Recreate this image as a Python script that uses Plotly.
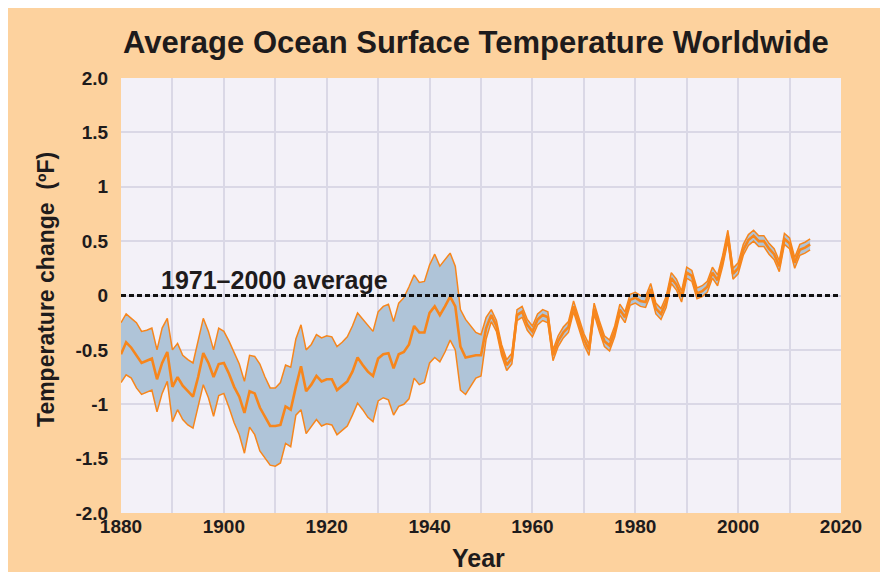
import plotly.graph_objects as go

years = list(range(1880, 2015))

center = [
    -0.54, -0.43, -0.48, -0.55, -0.62, -0.60, -0.58, -0.77, -0.62, -0.52,
    -0.84, -0.75, -0.83, -0.88, -0.93, -0.75, -0.53, -0.62, -0.75, -0.63,
    -0.62, -0.72, -0.84, -0.93, -1.08, -0.88, -0.90, -1.03, -1.12, -1.20,
    -1.20, -1.19, -1.02, -1.05, -0.84, -0.65, -0.88, -0.82, -0.74, -0.79,
    -0.77, -0.77, -0.87, -0.83, -0.79, -0.70, -0.57, -0.64, -0.70, -0.74,
    -0.58, -0.54, -0.53, -0.67, -0.54, -0.52, -0.45, -0.28, -0.34, -0.34,
    -0.16, -0.10, -0.18, -0.10, -0.01, -0.10, -0.47, -0.57, -0.56, -0.55,
    -0.55, -0.30, -0.18, -0.28, -0.50, -0.64, -0.58, -0.18, -0.15, -0.27,
    -0.33, -0.22, -0.18, -0.20, -0.55, -0.42, -0.34, -0.29, -0.10, -0.25,
    -0.40, -0.50, -0.12, -0.28, -0.42, -0.46, -0.33, -0.13, -0.20, -0.04,
    -0.02, -0.05, -0.06, 0.06, -0.12, -0.17, -0.06, 0.16, 0.10, -0.01,
    0.21, 0.18, 0.02, 0.04, 0.08, 0.21, 0.14, 0.32, 0.55, 0.20,
    0.25, 0.42, 0.51, 0.55, 0.50, 0.50, 0.43, 0.38, 0.27, 0.52,
    0.48, 0.30, 0.42, 0.44, 0.47,
]

upper = [
    -0.25, -0.17, -0.21, -0.25, -0.33, -0.32, -0.30, -0.50, -0.30, -0.21,
    -0.50, -0.44, -0.55, -0.59, -0.62, -0.42, -0.21, -0.33, -0.50, -0.30,
    -0.33, -0.42, -0.52, -0.63, -0.79, -0.55, -0.56, -0.63, -0.75, -0.85,
    -0.85, -0.80, -0.64, -0.66, -0.40, -0.27, -0.50, -0.45, -0.36, -0.39,
    -0.37, -0.38, -0.47, -0.43, -0.38, -0.28, -0.16, -0.22, -0.28, -0.33,
    -0.15, -0.10, -0.08, -0.24, -0.07, -0.02, 0.08, 0.19, 0.12, 0.13,
    0.28, 0.38, 0.27, 0.33, 0.39, 0.27, -0.13, -0.22, -0.28, -0.34,
    -0.36, -0.20, -0.13, -0.23, -0.45, -0.59, -0.53, -0.13, -0.10, -0.22,
    -0.28, -0.17, -0.13, -0.15, -0.50, -0.37, -0.29, -0.24, -0.05, -0.20,
    -0.35, -0.45, -0.07, -0.23, -0.37, -0.41, -0.28, -0.08, -0.15, 0.01,
    0.03, 0.00, -0.01, 0.11, -0.07, -0.12, -0.01, 0.21, 0.15, 0.04,
    0.26, 0.23, 0.07, 0.09, 0.13, 0.26, 0.19, 0.37, 0.60, 0.25,
    0.30, 0.47, 0.56, 0.60, 0.55, 0.55, 0.48, 0.43, 0.32, 0.57,
    0.53, 0.35, 0.47, 0.49, 0.52,
]

lower = [
    -0.80, -0.73, -0.76, -0.85, -0.91, -0.89, -0.87, -1.07, -0.90, -0.79,
    -1.16, -1.05, -1.14, -1.19, -1.22, -1.02, -0.82, -0.94, -1.11, -0.92,
    -0.90, -1.03, -1.17, -1.28, -1.45, -1.21, -1.28, -1.43, -1.50, -1.56,
    -1.57, -1.54, -1.36, -1.39, -1.10, -1.05, -1.27, -1.20, -1.14, -1.20,
    -1.18, -1.19, -1.28, -1.24, -1.20, -1.10, -0.99, -1.05, -1.12, -1.16,
    -0.97, -0.94, -0.96, -1.10, -1.02, -1.00, -0.95, -0.76, -0.82, -0.80,
    -0.62, -0.57, -0.61, -0.52, -0.41, -0.50, -0.87, -0.91, -0.84, -0.76,
    -0.74, -0.40, -0.24, -0.33, -0.55, -0.69, -0.63, -0.23, -0.20, -0.32,
    -0.38, -0.27, -0.23, -0.25, -0.60, -0.47, -0.39, -0.34, -0.15, -0.30,
    -0.45, -0.55, -0.17, -0.33, -0.47, -0.51, -0.38, -0.18, -0.25, -0.09,
    -0.07, -0.10, -0.11, 0.01, -0.17, -0.22, -0.11, 0.11, 0.05, -0.06,
    0.16, 0.13, -0.03, -0.01, 0.03, 0.16, 0.09, 0.27, 0.50, 0.15,
    0.20, 0.37, 0.46, 0.50, 0.45, 0.45, 0.38, 0.33, 0.22, 0.47,
    0.43, 0.25, 0.37, 0.39, 0.42,
]

x_tickvals = [1880, 1890, 1900, 1910, 1920, 1930, 1940, 1950, 1960, 1970, 1980, 1990, 2000, 2010, 2020]
x_ticktext = ["1880", "", "1900", "", "1920", "", "1940", "", "1960", "", "1980", "", "2000", "", "2020"]
y_tickvals = [2.0, 1.5, 1.0, 0.5, 0.0, -0.5, -1.0, -1.5, -2.0]
y_ticktext = ["2.0", "1.5", "1", "0.5", "0", "-0.5", "-1", "-1.5", "-2.0"]

ORANGE = "#F7861C"
BAND = "#AFC4D8"
PEACH = "#FDD29E"
PLOTBG = "#F3F1F8"
GRID = "#DAD8E6"
TXT = "#1E1B1C"
FONT = "Liberation Sans"

fig = go.Figure()
fig.add_trace(go.Scatter(x=years, y=upper, mode="lines",
                         line=dict(color=ORANGE, width=1.5), hoverinfo="skip", showlegend=False))
fig.add_trace(go.Scatter(x=years, y=lower, mode="lines", fill="tonexty", fillcolor=BAND,
                         line=dict(color=ORANGE, width=1.5), hoverinfo="skip", showlegend=False))
fig.add_trace(go.Scatter(x=years, y=center, mode="lines",
                         line=dict(color=ORANGE, width=2.6), showlegend=False))

fig.add_shape(type="line", xref="paper", yref="y", x0=0, x1=1, y0=0, y1=0,
              line=dict(color="#111111", width=3, dash="5px,3px"), layer="above")

fig.add_annotation(x=1887.4, y=0, xref="x", yref="y", text="1971\u20132000 average",
                   showarrow=False, xanchor="left", yanchor="bottom", yshift=0,
                   font=dict(family=FONT, size=25, color=TXT, weight="bold"))
fig.add_annotation(x=-0.104, y=0.513, xref="paper", yref="paper", text="Temperature change  (\u00baF)",
                   showarrow=False, textangle=-90, xanchor="center", yanchor="middle",
                   font=dict(family=FONT, size=23, color=TXT, weight="bold"))
fig.add_annotation(x=0.496, y=-0.103, xref="paper", yref="paper", text="Year",
                   showarrow=False, xanchor="center", yanchor="middle",
                   font=dict(family=FONT, size=25, color=TXT, weight="bold"))

fig.update_layout(
    width=888, height=572,
    margin=dict(l=113, r=55, t=70, b=67),
    paper_bgcolor=PEACH, plot_bgcolor=PLOTBG,
    title=dict(text="Average Ocean Surface Temperature Worldwide", x=0.493, xref="paper",
               y=1 - 34 / 572, yref="container", xanchor="center", yanchor="middle",
               font=dict(family=FONT, size=31, color=TXT, weight="bold")),
    xaxis=dict(range=[1880, 2020], tickvals=x_tickvals, ticktext=x_ticktext,
               showgrid=True, gridcolor=GRID, gridwidth=2, zeroline=False,
               ticks="", showline=False,
               tickfont=dict(family=FONT, size=19, color=TXT, weight="bold")),
    yaxis=dict(range=[-2, 2], tickvals=y_tickvals, ticktext=y_ticktext,
               showgrid=True, gridcolor=GRID, gridwidth=2, zeroline=False,
               ticks="outside", ticklen=8, tickcolor="rgba(0,0,0,0)", showline=False,
               tickfont=dict(family=FONT, size=19, color=TXT, weight="bold")),
)

fig.write_html("out.html")
